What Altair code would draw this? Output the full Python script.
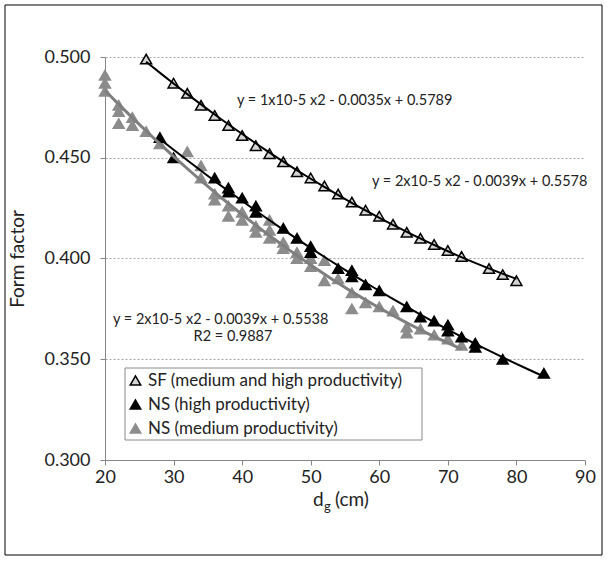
import altair as alt
import pandas as pd

# ---------------- data ----------------
series_names = ["SF (medium and high productivity)", "NS (high productivity)", "NS (medium productivity)"]

sf_d = [26, 30, 32, 34, 36, 38, 40, 42, 44, 46, 48, 50, 52, 54, 56, 58, 60, 62, 64, 66, 68, 70, 72, 76, 78, 80]
sf_f = [0.499, 0.487, 0.482, 0.476, 0.471, 0.466, 0.461, 0.456, 0.452, 0.448, 0.443, 0.440, 0.436,
        0.432, 0.428, 0.424, 0.421, 0.417, 0.413, 0.410, 0.407, 0.404, 0.401, 0.395, 0.392, 0.389]

nsh_d = [28, 30, 36, 38, 38, 40, 42, 42, 46, 48, 50, 50, 54, 56, 56, 58, 60, 64, 66, 68, 70, 70, 72, 74, 74, 78, 84]
nsh_f = [0.460, 0.450, 0.440, 0.435, 0.433, 0.430, 0.426, 0.423, 0.415, 0.410, 0.406, 0.403, 0.395, 0.394,
         0.391, 0.387, 0.384, 0.376, 0.371, 0.369, 0.367, 0.364, 0.361, 0.358, 0.356, 0.350, 0.343]

nsm_d = [20, 20, 20, 22, 22, 22, 24, 24, 26, 28, 32, 34, 34, 36, 36, 38, 38, 40, 40, 42, 42, 44, 44, 44,
         46, 46, 48, 48, 50, 50, 52, 52, 54, 56, 56, 58, 60, 62, 64, 64, 66, 68, 70, 72]
nsm_f = [0.491, 0.487, 0.483, 0.476, 0.473, 0.467, 0.470, 0.466, 0.463, 0.457, 0.453, 0.446, 0.440, 0.432,
         0.429, 0.426, 0.421, 0.423, 0.419, 0.416, 0.413, 0.419, 0.414, 0.410, 0.408, 0.405, 0.403, 0.400,
         0.400, 0.396, 0.399, 0.389, 0.390, 0.383, 0.375, 0.378, 0.376, 0.374, 0.366, 0.363, 0.365, 0.362,
         0.360, 0.357]

x_ticks = [20, 30, 40, 50, 60, 70, 80, 90]
y_ticks = [0.300, 0.350, 0.400, 0.450, 0.500]

eq_texts = ["y = 1x10-5 x2 - 0.0035x + 0.5789",
            "y = 2x10-5 x2 - 0.0039x + 0.5578",
            "y = 2x10-5 x2 - 0.0039x + 0.5538",
            "R2 = 0.9887"]

fills = ["#d4d4d4", "#000000", "#8c8c8c"]
strokes = ["#000000", "#000000", "#8c8c8c"]

FONT = "Lato"

rows = []
for d, f in zip(nsm_d, nsm_f):
    rows.append({"d": d, "f": f, "series": series_names[2]})
for d, f in zip(nsh_d, nsh_f):
    rows.append({"d": d, "f": f, "series": series_names[1]})
for d, f in zip(sf_d, sf_f):
    rows.append({"d": d, "f": f, "series": series_names[0]})
df = pd.DataFrame(rows)

xscale = alt.Scale(domain=[20, 90], nice=False, zero=False)
yscale = alt.Scale(domain=[0.3, 0.5], nice=False, zero=False)

x_enc = alt.X("d:Q", scale=xscale,
              axis=alt.Axis(values=x_ticks, grid=False, title=None, labelFontSize=18,
                            labelFont=FONT, labelColor="#222222", tickSize=5, labelPadding=3,
                            labelFlush=False, labelOverlap=False,
                            domainColor="#868686", tickColor="#868686"))
y_enc = alt.Y("f:Q", scale=yscale,
              axis=alt.Axis(values=y_ticks, format=".3f", grid=True, gridDash=[2, 2],
                            gridColor="#a6a6a6", title="Form factor", titleFontSize=19,
                            titleFont=FONT, titleFontWeight="normal", titleColor="#222222",
                            titlePadding=16, labelFontSize=18, labelFont=FONT, labelColor="#222222",
                            labelFlush=False, labelOverlap=False,
                            tickSize=5, labelPadding=10, domainColor="#868686", tickColor="#868686"))

legend = alt.Legend(title=None, orient="none", legendX=22, legendY=315, labelFont=FONT,
                    labelFontSize=17, labelColor="#222222", symbolType="triangle-up",
                    symbolSize=110, symbolStrokeWidth=1.5, rowPadding=6, labelOffset=4,
                    labelLimit=0, padding=0)

points = alt.Chart(df).mark_point(shape="triangle-up", filled=True, size=120, strokeWidth=1.5,
                                  opacity=1).encode(
    x=x_enc, y=y_enc,
    fill=alt.Fill("series:N", scale=alt.Scale(domain=series_names, range=fills), legend=legend),
    stroke=alt.Stroke("series:N", scale=alt.Scale(domain=series_names, range=strokes), legend=legend),
)

def trend(name, color, width):
    return alt.Chart(df).transform_filter(alt.datum.series == name).transform_regression(
        "d", "f", method="poly", order=2
    ).mark_line(color=color, strokeWidth=width).encode(
        x=alt.X("d:Q", scale=xscale), y=alt.Y("f:Q", scale=yscale))

line_m = trend(series_names[2], "#7f7f7f", 3)
line_h = trend(series_names[1], "#000000", 2)
line_s = trend(series_names[0], "#000000", 2)

one = alt.Data(values=[{}])

def txt(s, x, y, size=14.5, align="left", baseline="middle"):
    return alt.Chart(one).mark_text(font=FONT, fontSize=size, align=align, baseline=baseline,
                                    color="#222222").encode(
        x=alt.value(x), y=alt.value(y), text=alt.value(s))

legend_box = alt.Chart(one).mark_rect(fill="white", stroke="#8a8a8a", strokeWidth=1).encode(
    x=alt.value(20), x2=alt.value(317), y=alt.value(311), y2=alt.value(383))

border = alt.Chart(one).mark_rect(fill=None, stroke="#000000", strokeWidth=1).encode(
    x=alt.value(-100), x2=alt.value(497), y=alt.value(-52), y2=alt.value(498))

eq1 = txt(eq_texts[0], 132, 44)
eq2 = txt(eq_texts[1], 267, 125)
eq3 = txt(eq_texts[2], 8, 263)
eq4 = txt(eq_texts[3], 128, 280, align="center")

xt_d = txt("d", 208, 449, size=19, baseline="alphabetic")
xt_g = txt("g", 219, 454, size=13, baseline="alphabetic")
xt_cm = txt("(cm)", 230, 449, size=19, baseline="alphabetic")

chart = alt.layer(
    border, legend_box, points, line_m, line_h, line_s,
    eq1, eq2, eq3, eq4, xt_d, xt_g, xt_cm
).properties(
    width=480, height=403,
    autosize=alt.AutoSizeParams(type="none"),
    padding={"left": 105, "top": 57, "right": 23, "bottom": 102},
    background="white",
).configure_view(stroke=None)

chart.save("out.html", embed_options={"renderer": "svg", "actions": False})
